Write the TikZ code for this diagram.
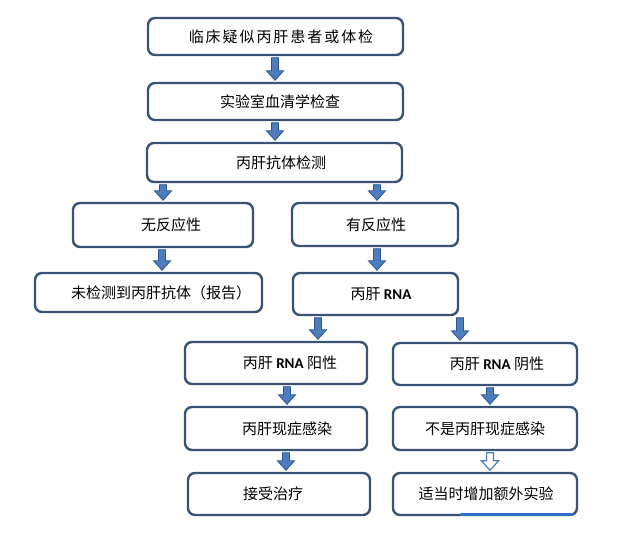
\documentclass[tikz,border=0pt]{standalone}
\usepackage{fontspec}
\setmainfont{Noto Sans CJK SC}
\newfontfamily\latf{Carlito}
\usetikzlibrary{calc}
\definecolor{boxline}{HTML}{3A5274}
\definecolor{arrfill}{HTML}{4C7DBC}
\definecolor{arrline}{HTML}{2C5590}
\definecolor{bluestroke}{HTML}{2F6FD0}
\newcommand\rna{{\latf\bfseries RNA}}
\newcommand\flowarrow[4][]{%
  \path[arr,#1] let \p1=(#2.south), \p2=(#3.north), \p3=(#4,0) in
   (\x3-3.5pt,\y1-1.5pt) -- (\x3+3.5pt,\y1-1.5pt) -- (\x3+3.5pt,\y2+11pt) -- (\x3+8.5pt,\y2+11pt)
   -- (\x3,\y2+1.5pt) -- (\x3-8.5pt,\y2+11pt) -- (\x3-3.5pt,\y2+11pt) -- cycle;}
\tikzset{
  box/.style={draw=boxline, line width=2.4pt, rounded corners=7pt, fill=white, inner sep=0pt},
  txt/.style={inner sep=0pt, font=\fontsize{15}{18}\selectfont},
  arr/.style={draw=arrline, fill=arrfill, line width=0.8pt, line join=miter},
  hollow/.style={fill=white, draw=arrfill, line width=1.2pt}
}
\begin{document}
\begin{tikzpicture}[x=1pt,y=-1pt]
\useasboundingbox (0,0) rectangle (640,546);
% boxes
\node[box, minimum width=255pt, minimum height=37pt] (b1) at (275.5,36.5) {};
\node[box, minimum width=255pt, minimum height=37pt] (b2) at (275.5,101.5) {};
\node[box, minimum width=255pt, minimum height=39pt] (b3) at (274.5,162.5) {};
\node[box, minimum width=180pt, minimum height=44pt] (b4) at (163,225) {};
\node[box, minimum width=166pt, minimum height=43pt] (b5) at (375,224.5) {};
\node[box, minimum width=227pt, minimum height=39pt] (b6) at (148.5,292.5) {};
\node[box, minimum width=165pt, minimum height=42pt] (b7) at (375.5,294) {};
\node[box, minimum width=182pt, minimum height=42pt] (b8) at (276,363) {};
\node[box, minimum width=184pt, minimum height=42pt] (b9) at (485,364) {};
\node[box, minimum width=182pt, minimum height=43pt] (b10) at (276,428.5) {};
\node[box, minimum width=184pt, minimum height=43pt] (b11) at (485,428.5) {};
\node[box, minimum width=182pt, minimum height=42pt] (b12) at (279,494) {};
\node[box, minimum width=184pt, minimum height=42pt] (b13) at (485,494) {};
% texts
\node[txt] (t1) at (281,36.5) {\addfontfeatures{LetterSpace=13}临床疑似丙肝患者或体检};
\node[txt] (t2) at (280,101.5) {实验室血清学检查};
\node[txt] (t3) at (281,162.5) {丙肝抗体检测};
\node[txt] (t4) at (171,225) {无反应性};
\node[txt] (t5) at (376,224.5) {有反应性};
\node[txt] (t6) at (161,292.5) {未检测到丙肝抗体（报告）};
\node[txt] (t7) at (381,294) {丙肝 \rna};
\node[txt] (t8) at (290,363) {丙肝 \rna\ 阳性};
\node[txt] (t9) at (497,364) {丙肝 \rna\ 阴性};
\node[txt] (t10) at (287,428.5) {丙肝现症感染};
\node[txt] (t11) at (485,428.5) {不是丙肝现症感染};
\node[txt] (t12) at (273,494) {接受治疗};
\node[txt] (t13) at (486,494) {适当时增加额外实验};
% arrows
\flowarrow{b1}{b2}{275}
\flowarrow{b2}{b3}{275}
\flowarrow{b3}{b4}{163}
\flowarrow{b3}{b5}{377}
\flowarrow{b4}{b6}{162}
\flowarrow{b5}{b7}{377}
\flowarrow{b7}{b8}{318}
\flowarrow{b7}{b9}{460}
\flowarrow{b8}{b10}{287}
\flowarrow{b9}{b11}{490}
\flowarrow{b10}{b12}{286}
\flowarrow[hollow]{b11}{b13}{490}
% blue stroke along bottom of last box
\draw[draw=bluestroke, line width=2.8pt, line cap=round] ([xshift=-117pt,yshift=1.4pt]b13.south east) -- ([xshift=-6pt,yshift=1.4pt]b13.south east);
\end{tikzpicture}
\end{document}
